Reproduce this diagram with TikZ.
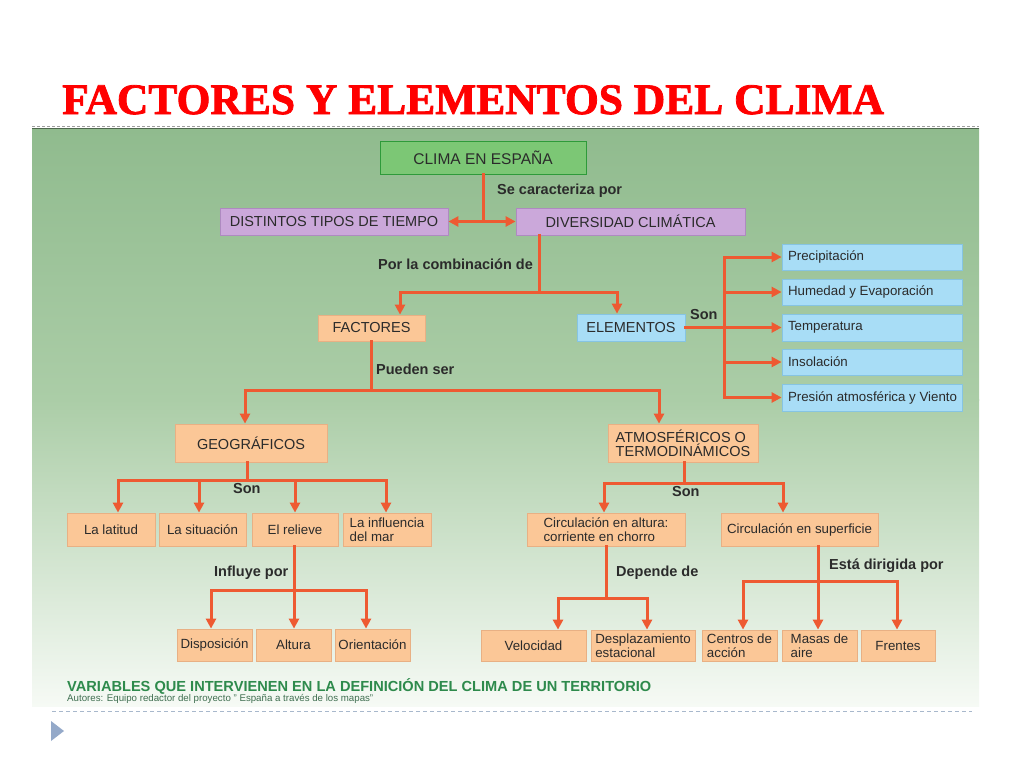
\documentclass[tikz,border=0pt]{standalone}
\usepackage{fontspec}
\setmainfont{Liberation Sans}
\newfontfamily\titlefont[BoldFeatures={FakeBold=1.8}]{Liberation Serif}
\usetikzlibrary{arrows.meta,calc}
\definecolor{ln}{HTML}{EE5A32}
\definecolor{peach}{HTML}{FBC797}
\definecolor{peachd}{HTML}{E8B084}
\definecolor{sky}{HTML}{A8DDF6}
\definecolor{skyd}{HTML}{86C4E2}
\definecolor{lav}{HTML}{CBA8DA}
\definecolor{lavd}{HTML}{AE8AC0}
\definecolor{grn}{HTML}{7CC775}
\definecolor{grnd}{HTML}{2E9A3A}
\definecolor{txt}{HTML}{2B2B2B}
\definecolor{foot}{HTML}{2E8A4C}
\definecolor{auth}{HTML}{3F6E50}
\definecolor{panA}{HTML}{90BB8E}
\definecolor{panB}{HTML}{ABCDA7}
\definecolor{panC}{HTML}{F6FAF5}
\definecolor{titred}{HTML}{FF0000}
\definecolor{tri}{HTML}{94A9C9}
\definecolor{dashb}{HTML}{A8B8CC}
\newcommand\bx[7]{\node[#6, minimum width={(#4-#2)*1pt}, minimum height={(#5-#3)*1pt}] (#1) at ({(#2+#4)/2},{(#3+#5)/2}) {#7};}
\newcommand\el[1]{\makebox[168pt][l]{#1}}
\begin{document}
\begin{tikzpicture}[x=1pt,y=-1pt,
  base/.style={inner sep=0pt, text=txt, line width=0.8pt, font=\fontsize{13.3}{13.5}\selectfont, align=left},
  caps/.style={font=\fontsize{14.5}{14}\selectfont},
  pbox/.style={base, fill=peach, draw=peachd},
  bbox/.style={base, fill=sky, draw=skyd},
  ebox/.style={bbox},
  lbox/.style={base, caps, fill=lav, draw=lavd},
  gbox/.style={base, fill=grn, draw=grnd, line width=1pt, font=\fontsize{15.5}{16}\selectfont},
  line/.style={draw=ln, line width=3pt, line cap=rect},
  arr/.style={line, -{Triangle[length=10pt,width=10pt]}},
  lbl/.style={font=\bfseries\fontsize{14.5}{15}\selectfont, text=txt, inner sep=0pt, anchor=west}]
\useasboundingbox (0,0) rectangle (1024,768);
\fill[white] (0,0) rectangle (1024,768);
% panel
\shade[top color=panA, bottom color=panB] (32,128) rectangle (979,400);
\shade[top color=panB, bottom color=panC] (32,399.5) rectangle (979,706);
\draw[gray!75, dash pattern=on 3pt off 2pt, line width=1pt] (32,126.5) -- (979,126.5);
\draw[black!45!panA, line width=1.5pt] (32,128.5) -- (979,128.5);
\draw[dashb, dash pattern=on 4pt off 3pt, line width=1pt] (52,711) -- (972,711);
\fill[tri] (51,721) -- (64,731) -- (51,741) -- cycle;
% title
\node[anchor=base west, inner sep=0pt, text=titred, font=\titlefont\bfseries\fontsize{43.5}{44}\selectfont] (title) at (62,114) {FACTORES Y ELEMENTOS DEL CLIMA};
% boxes
\bx{clima}{380}{141}{586}{174}{gbox}{CLIMA EN ESPAÑA}
\bx{dist}{220}{208}{448}{235}{lbox}{DISTINTOS TIPOS DE TIEMPO}
\bx{div}{516}{208}{745}{235}{lbox}{DIVERSIDAD CLIMÁTICA}
\bx{fact}{318}{315}{425}{341}{pbox,caps}{FACTORES}
\bx{elem}{577}{314}{685}{341}{bbox,caps}{ELEMENTOS}
\bx{e1}{782}{244}{962}{270}{ebox}{\el{Precipitación}}
\bx{e2}{782}{279}{962}{305}{ebox}{\el{Humedad y Evaporación}}
\bx{e3}{782}{314}{962}{341}{ebox}{\el{Temperatura}}
\bx{e4}{782}{349}{962}{375}{ebox}{\el{Insolación}}
\bx{e5}{782}{384}{962}{411}{ebox}{\el{Presión atmosférica y Viento}}
\bx{geo}{175}{424}{327}{462}{pbox,caps}{GEOGRÁFICOS}
\bx{atm}{608}{424}{758}{462}{pbox,caps}{ATMOSFÉRICOS O\\TERMODINÁMICOS}
\bx{lat}{67}{513}{155}{546}{pbox}{La latitud}
\bx{sit}{159}{513}{246}{546}{pbox}{La situación}
\bx{rel}{252}{513}{338}{546}{pbox}{El relieve}
\bx{mar}{343}{513}{431}{546}{pbox}{La influencia\\del mar}
\bx{disp}{177}{629}{252}{661}{pbox}{Disposición}
\bx{alt}{256}{629}{331}{661}{pbox}{Altura}
\bx{ori}{335}{629}{410}{661}{pbox}{Orientación}
\bx{calt}{527}{513}{685}{546}{pbox}{Circulación en altura:\\corriente en chorro}
\bx{csup}{721}{513}{878}{546}{pbox}{Circulación en superficie}
\bx{vel}{481}{630}{586}{661}{pbox}{Velocidad}
\bx{desp}{591}{630}{695}{661}{pbox}{Desplazamiento\\estacional}
\bx{cen}{702}{630}{777}{661}{pbox}{Centros de\\acción}
\bx{mas}{782}{630}{857}{661}{pbox}{Masas de\\aire}
\bx{fre}{861}{630}{935}{661}{pbox}{Frentes}
% labels
\node[lbl] (l1) at (497,191) {Se caracteriza por};
\node[lbl] (l2) at (378,264) {Por la combinación de};
\node[lbl] (l3) at (690,315) {Son};
\node[lbl] (l4) at (376,369) {Pueden ser};
\node[lbl] (l5) at (233,489) {Son};
\node[lbl] (l6) at (214,573) {Influye por};
\node[lbl] (l7) at (672,492) {Son};
\node[lbl] (l8) at (616,573) {Depende de};
\node[lbl] (l9) at (829,566) {Está dirigida por};
% connectors
\coordinate (j1) at (clima.south |- dist.east);
\draw[line] (clima.south) -- (j1);
\draw[arr] (j1) -- (dist.east);
\draw[arr] (j1) -- (div.west);
\coordinate (j2) at (539,292);
\coordinate (j2l) at (400,292);
\coordinate (j2r) at (617,292);
\draw[line] (div.south -| j2) -- (j2);
\draw[line] (j2l) -- (j2r);
\draw[arr] (j2l) -- (j2l |- fact.north);
\draw[arr] (j2r) -- (j2r |- elem.north);
\coordinate (eb) at (724,327);
\draw[arr] (elem.east) -- (e3.west);
\draw[line] (eb |- e1.west) -- (eb |- e5.west);
\foreach \n in {e1,e2,e4,e5}{\draw[arr] (eb |- \n.west) -- (\n.west);}
\coordinate (j4) at (371.5,390);
\coordinate (j4l) at (245,390);
\coordinate (j4r) at (659,390);
\draw[line] (fact.south) -- (j4);
\draw[line] (j4l) -- (j4r);
\draw[arr] (j4l) -- (j4l |- geo.north);
\draw[arr] (j4r) -- (j4r |- atm.north);
\coordinate (j5) at (247,480);
\coordinate (j5l) at (118,480);
\coordinate (j5r) at (386,480);
\draw[line] (j5 |- geo.south) -- (j5);
\draw[line] (j5l) -- (j5r);
\foreach \x/\n in {118/lat,199/sit,295/rel,386/mar}{\coordinate (t\n) at (\x,480); \draw[arr] (t\n) -- (t\n |- \n.north);}
\coordinate (j6) at (294,590);
\coordinate (j6l) at (211,590);
\coordinate (j6r) at (366,590);
\draw[line] (j6 |- rel.south) -- (j6);
\draw[line] (j6l) -- (j6r);
\foreach \x/\n in {211/disp,294/alt,366/ori}{\coordinate (t\n) at (\x,590); \draw[arr] (t\n) -- (t\n |- \n.north);}
\coordinate (j7) at (684,483);
\coordinate (j7l) at (604,483);
\coordinate (j7r) at (783,483);
\draw[line] (j7 |- atm.south) -- (j7);
\draw[line] (j7l) -- (j7r);
\draw[arr] (j7l) -- (j7l |- calt.north);
\draw[arr] (j7r) -- (j7r |- csup.north);
\coordinate (j8) at (606,598);
\coordinate (j8l) at (558,598);
\coordinate (j8r) at (647,598);
\draw[line] (j8 |- calt.south) -- (j8);
\draw[line] (j8l) -- (j8r);
\draw[arr] (j8l) -- (j8l |- vel.north);
\draw[arr] (j8r) -- (j8r |- desp.north);
\coordinate (j9) at (818,581);
\coordinate (j9l) at (743,581);
\coordinate (j9r) at (897,581);
\draw[line] (j9 |- csup.south) -- (j9);
\draw[line] (j9l) -- (j9r);
\draw[arr] (j9l) -- (j9l |- cen.north);
\draw[arr] (j9) -- (j9 |- mas.north);
\draw[arr] (j9r) -- (j9r |- fre.north);
% footer
\node[anchor=base west, inner sep=0pt, text=foot, font=\bfseries\fontsize{14.6}{15}\selectfont] (ft) at (67,691) {VARIABLES QUE INTERVIENEN EN LA DEFINICIÓN DEL CLIMA DE UN TERRITORIO};
\node[anchor=base west, inner sep=0pt, text=auth, font=\fontsize{9.7}{10}\selectfont] (au) at (67,701) {Autores: Equipo redactor del proyecto " España a través de los mapas"};
\end{tikzpicture}
\end{document}
